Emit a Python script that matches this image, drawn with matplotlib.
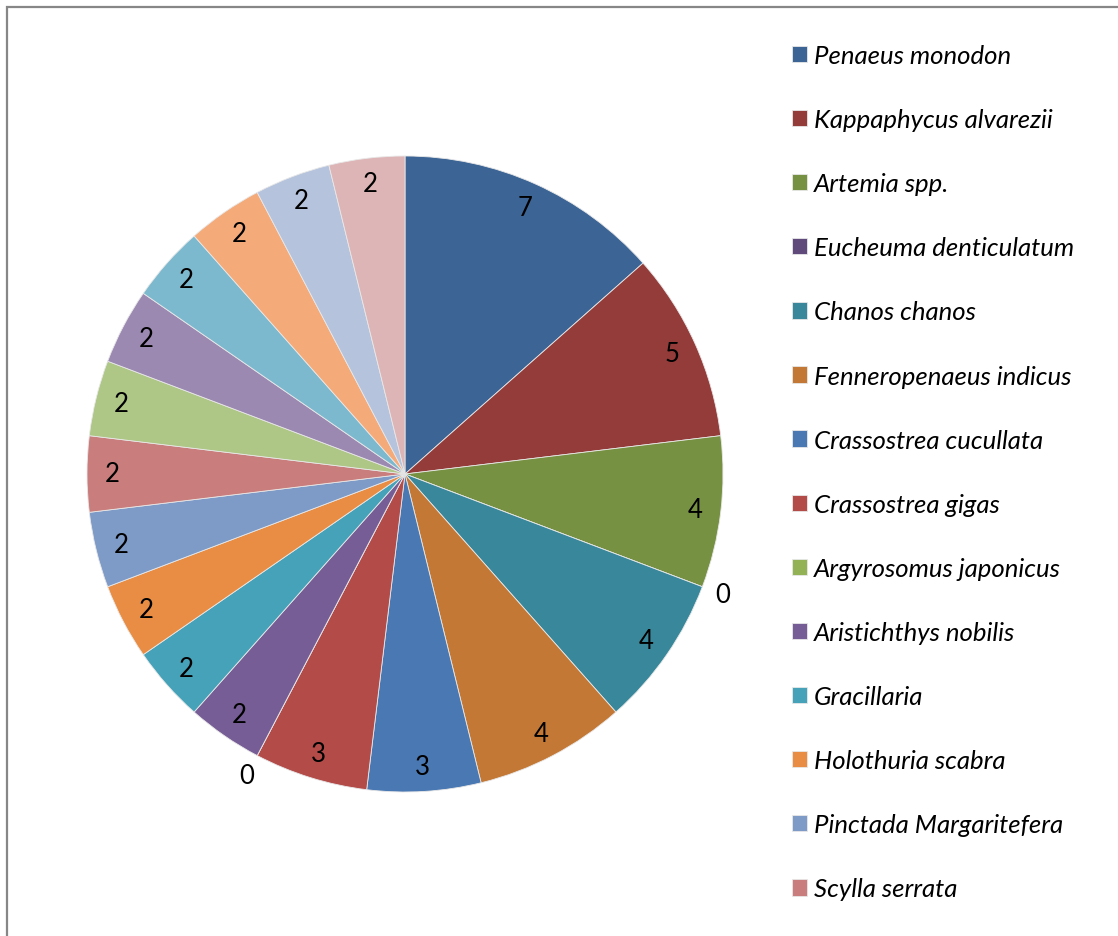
import matplotlib
matplotlib.use("Agg")
import matplotlib.pyplot as plt
from matplotlib.patches import Rectangle
import numpy as np

species = [
    "Penaeus monodon", "Kappaphycus alvarezii", "Artemia spp.",
    "Eucheuma denticulatum", "Chanos chanos", "Fenneropenaeus indicus",
    "Crassostrea cucullata", "Crassostrea gigas", "Argyrosomus japonicus",
    "Aristichthys nobilis", "Gracillaria", "Holothuria scabra",
    "Pinctada Margaritefera", "Scylla serrata",
    "Species 15", "Species 16", "Species 17", "Species 18",
    "Species 19", "Species 20",
]
counts = [7, 5, 4, 0, 4, 4, 3, 3, 0, 2, 2, 2, 2, 2, 2, 2, 2, 2, 2, 2]
colors = [
    "#3C6494", "#943C3A", "#779143", "#5F4A7B", "#38879A", "#C37836",
    "#4A78B2", "#B34B49", "#93B255", "#775D96", "#46A2B9", "#E88D43",
    "#7E9BC8", "#C97D7C", "#AEC686", "#9C89B2", "#7DB9CE", "#F5AA7A",
    "#B6C3DD", "#DEB5B6",
]
legend_count = 14

W, H = 1118, 937
plt.rcParams["font.family"] = ["Lato", "DejaVu Sans"]
fig = plt.figure(figsize=(W / 100, H / 100), dpi=100)

# chart-area border
fig.patches.append(Rectangle((7 / W, -0.1), 1.2, (H - 8) / H + 0.1,
                             transform=fig.transFigure, fill=False,
                             edgecolor="#878787", linewidth=1.6))

cx, cy, r = 405, H - 475, 318
ax = fig.add_axes([(cx - r) / W, (cy - r) / H, 2 * r / W, 2 * r / H])
wedges, _ = ax.pie(counts, colors=colors, startangle=90, counterclock=False,
                   radius=1.0,
                   wedgeprops=dict(edgecolor="#e8e8e8", linewidth=0.6))
ax.set_xlim(-1, 1)
ax.set_ylim(-1, 1)
ax.set_aspect("equal")
ax.axis("off")

for w, v in zip(wedges, counts):
    mid = np.deg2rad((w.theta1 + w.theta2) / 2)
    d = 0.92 if v > 0 else 1.07
    ax.text(d * np.cos(mid), d * np.sin(mid), f"{v}", ha="center",
            va="center", fontsize=18.5, color="black", clip_on=False)

fig.legend(wedges[:legend_count], species[:legend_count],
           loc="upper left", bbox_to_anchor=(792 / W, 1 - 45 / H),
           frameon=False, prop=dict(size=18.5, style="italic"),
           handlelength=0.6, handleheight=0.6, handletextpad=0.25,
           labelspacing=1.6, borderpad=0, borderaxespad=0)

fig.savefig("out.png", dpi=100, facecolor="white")
